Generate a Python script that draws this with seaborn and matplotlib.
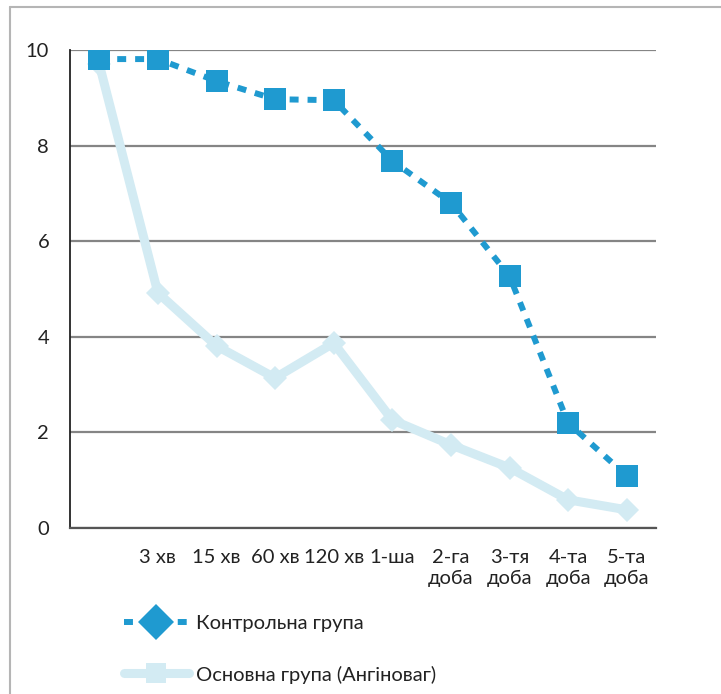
import numpy as np
import pandas as pd
import matplotlib.pyplot as plt
import seaborn as sns
from matplotlib.lines import Line2D
from matplotlib.ticker import FixedLocator, NullFormatter

# data
periods = ['', '3 хв', '15 хв', '60 хв', '120 хв', '1-ша',
           '2-га\nдоба', '3-тя\nдоба', '4-та\nдоба', '5-та\nдоба']
control = [9.81, 9.81, 9.35, 8.97, 8.95, 7.68, 6.80, 5.27, 2.20, 1.09]
main = [9.70, 4.92, 3.81, 3.14, 3.87, 2.26, 1.74, 1.26, 0.59, 0.38]
series_names = ['Контрольна група', 'Основна група (Ангіноваг)']

dark_blue = '#1f9ad0'
light_blue = '#d3ebf3'
text_col = '#222222'
dots = (0, (1.5, 1.5))

sns.set_style('white')
plt.rcParams['font.family'] = ['Lato', 'DejaVu Sans']
plt.rcParams['font.size'] = 14.5

df = pd.DataFrame({'pos': np.arange(len(periods)), 'control': control, 'main': main})

fig = plt.figure(figsize=(7.21, 6.94), dpi=100)
ax = fig.add_axes([70 / 721, 1 - 528 / 694, (656 - 70) / 721, (528 - 50) / 694])

sns.lineplot(data=df, x='pos', y='main', ax=ax, color=light_blue, linewidth=6.5,
             marker='D', markersize=12.5, markeredgewidth=0, zorder=3)
sns.lineplot(data=df, x='pos', y='control', ax=ax, color=dark_blue, linewidth=4.3,
             linestyle=dots, dash_capstyle='butt',
             marker='s', markersize=16, markeredgewidth=0, zorder=4)

ax.set_xlim(-0.5, len(periods) - 0.5)
ax.set_ylim(0, 10)
ax.set_yticks([0, 2, 4, 6, 8, 10])
ax.yaxis.grid(True, color='#858585', linewidth=1.6)
ax.set_axisbelow(True)
ax.tick_params(axis='y', length=7, width=1.2, color='#555555', pad=8, labelcolor=text_col)

ax.set_xticks(df['pos'])
ax.set_xticklabels(periods, color=text_col, linespacing=1.3, va='top')
ax.tick_params(axis='x', which='major', length=0, pad=15)
ax.xaxis.set_minor_locator(FixedLocator(np.arange(-0.5, len(periods), 1.0)))
ax.xaxis.set_minor_formatter(NullFormatter())
ax.tick_params(axis='x', which='minor', length=7, width=1.2, color='#444444', direction='out')
ax.set_xlabel('')
ax.set_ylabel('')

for s in ['top', 'right']:
    ax.spines[s].set_visible(False)
ax.spines['left'].set_color('#222222')
ax.spines['left'].set_linewidth(1.3)
ax.spines['bottom'].set_color('#555555')
ax.spines['bottom'].set_linewidth(1.6)

# legend (the original shows swapped marker shapes)
handles = [
    Line2D([], [], color=dark_blue, linewidth=4.3, linestyle=dots,
           marker='D', markersize=18, markeredgewidth=0),
    Line2D([], [], color=light_blue, linewidth=6.5, marker='s',
           markersize=15, markeredgewidth=0),
]
fig.legend(handles, series_names, loc='upper left', bbox_to_anchor=(106 / 721, 1 - 597 / 694),
           frameon=False, handlelength=3.2, handletextpad=0.35, labelspacing=1.65,
           labelcolor=text_col, fontsize=14.5)

# thin frame around the figure
fig.add_artist(Line2D([10 / 721, 1], [1 - 7 / 694] * 2, transform=fig.transFigure,
                      color='#b5b5b5', linewidth=1.5))
fig.add_artist(Line2D([10 / 721] * 2, [0, 1 - 7 / 694], transform=fig.transFigure,
                      color='#b5b5b5', linewidth=1.5))

fig.savefig('out.png', dpi=100)
